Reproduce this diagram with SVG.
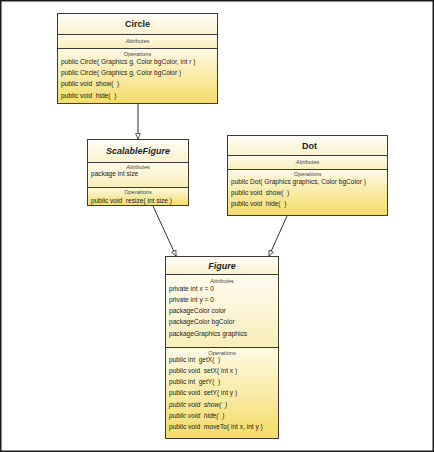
<svg xmlns="http://www.w3.org/2000/svg" width="434" height="452" viewBox="0 0 434 452">
<style>
text{font-family:"Liberation Sans",Arial,sans-serif;fill:#222;white-space:pre}
.t{font-size:9px;font-weight:bold;text-anchor:middle}
.ti{font-size:9px;font-weight:bold;font-style:italic;text-anchor:middle}
.h{font-size:5.6px;font-style:italic;text-anchor:middle;fill:#444}
.m{font-size:6.6px}
.mi{font-size:6.6px;font-style:italic}
.box{stroke:#3a3a3a;stroke-width:1}
.title{fill:url(#gT)}
.attr{fill:url(#gA)}
.ops{fill:url(#gO)}
.c{stroke:#333;stroke-width:1;fill:none;marker-end:url(#tri)}
</style>
<defs>
<linearGradient id="gT" x1="0" y1="0" x2="0" y2="1"><stop offset="0" stop-color="#fffefa"/><stop offset="1" stop-color="#fbf1cb"/></linearGradient>
<linearGradient id="gA" x1="0" y1="0" x2="0" y2="1"><stop offset="0" stop-color="#fffcf0"/><stop offset="1" stop-color="#f9edb8"/></linearGradient>
<linearGradient id="gO" x1="0" y1="0" x2="0" y2="1"><stop offset="0" stop-color="#fefae6"/><stop offset="1" stop-color="#f5db66"/></linearGradient>
<marker id="tri" viewBox="0 0 10 10" refX="9.5" refY="5" markerWidth="6" markerHeight="6" orient="auto" markerUnits="userSpaceOnUse">
<path d="M0.5,1 L9.5,5 L0.5,9 Z" fill="#fff" stroke="#333" stroke-width="1.3"/>
</marker>
</defs>
<rect x="0.75" y="0.75" width="432.5" height="450.5" fill="#fff" stroke="#1a1a1a" stroke-width="1.5"/>

<g id="connectors">
<line class="c" x1="138" y1="104" x2="138" y2="139"/>
<line class="c" x1="153" y1="206" x2="176" y2="256"/>
<line class="c" x1="287" y1="216" x2="269" y2="256"/>
</g>

<g id="Circle">
<rect class="title" x="57.5" y="13.5" width="160" height="21"/>
<rect class="attr" x="57.5" y="34.5" width="160" height="14"/>
<rect class="ops" x="57.5" y="48.5" width="160" height="55"/>
<rect class="box" x="57.5" y="13.5" width="160" height="90" fill="none"/>
<line class="box" x1="57.5" y1="34.5" x2="217.5" y2="34.5"/>
<line class="box" x1="57.5" y1="48.5" x2="217.5" y2="48.5"/>
<text class="t" x="137.5" y="26.5">Circle</text>
<text class="h" x="137.5" y="43">Attributes</text>
<text class="h" x="137.5" y="56">Operations</text>
<text class="m" x="61" y="63.5">public Circle( Graphics g, Color bgColor, int r )</text>
<text class="m" x="61" y="75">public Circle( Graphics g, Color bgColor )</text>
<text class="m" x="61" y="86.3">public void  show(  )</text>
<text class="m" x="61" y="97.6">public void  hide(  )</text>
</g>

<g id="ScalableFigure">
<rect class="title" x="87.5" y="139.5" width="101" height="23"/>
<rect class="attr" x="87.5" y="162.5" width="101" height="25"/>
<rect class="ops" x="87.5" y="187.5" width="101" height="18"/>
<rect class="box" x="87.5" y="139.5" width="101" height="66" fill="none"/>
<line class="box" x1="87.5" y1="162.5" x2="188.5" y2="162.5"/>
<line class="box" x1="87.5" y1="187.5" x2="188.5" y2="187.5"/>
<text class="ti" x="138" y="154">ScalableFigure</text>
<text class="h" x="138" y="169">Attributes</text>
<text class="m" x="91" y="175.5">package int size</text>
<text class="h" x="138" y="194">Operations</text>
<text class="m" x="91" y="202.5">public void  resize( int size )</text>
</g>

<g id="Dot">
<rect class="title" x="227.5" y="135.5" width="160" height="20"/>
<rect class="attr" x="227.5" y="155.5" width="160" height="14"/>
<rect class="ops" x="227.5" y="169.5" width="160" height="46"/>
<rect class="box" x="227.5" y="135.5" width="160" height="80" fill="none"/>
<line class="box" x1="227.5" y1="155.5" x2="387.5" y2="155.5"/>
<line class="box" x1="227.5" y1="169.5" x2="387.5" y2="169.5"/>
<text class="t" x="309.5" y="148.5">Dot</text>
<text class="h" x="307.5" y="164">Attributes</text>
<text class="h" x="307.5" y="176">Operations</text>
<text class="m" x="231" y="183.5">public Dot( Graphics graphics, Color bgColor )</text>
<text class="m" x="231" y="194.8">public void  show(  )</text>
<text class="m" x="231" y="206">public void  hide(  )</text>
</g>

<g id="Figure">
<rect class="title" x="165.5" y="256.5" width="113" height="18"/>
<rect class="attr" x="165.5" y="274.5" width="113" height="73"/>
<rect class="ops" x="165.5" y="347.5" width="113" height="91"/>
<rect class="box" x="165.5" y="256.5" width="113" height="182" fill="none"/>
<line class="box" x1="165.5" y1="274.5" x2="278.5" y2="274.5"/>
<line class="box" x1="165.5" y1="347.5" x2="278.5" y2="347.5"/>
<text class="ti" x="222" y="268.5">Figure</text>
<text class="h" x="222" y="283">Attributes</text>
<text class="m" x="169" y="290.5">private int x = 0</text>
<text class="m" x="169" y="301.8">private int y = 0</text>
<text class="m" x="169" y="313.1">packageColor color</text>
<text class="m" x="169" y="324.4">packageColor bgColor</text>
<text class="m" x="169" y="335.7">packageGraphics graphics</text>
<text class="h" x="222" y="355">Operations</text>
<text class="m" x="169" y="361.5">public int  getX(  )</text>
<text class="m" x="169" y="372.8">public void  setX( int x )</text>
<text class="m" x="169" y="384.1">public int  getY(  )</text>
<text class="m" x="169" y="395.4">public void  setY( int y )</text>
<text class="mi" x="169" y="406.7">public void  show(  )</text>
<text class="mi" x="169" y="418">public void  hide(  )</text>
<text class="m" x="169" y="429.3">public void  moveTo( int x, int y )</text>
</g>
</svg>
